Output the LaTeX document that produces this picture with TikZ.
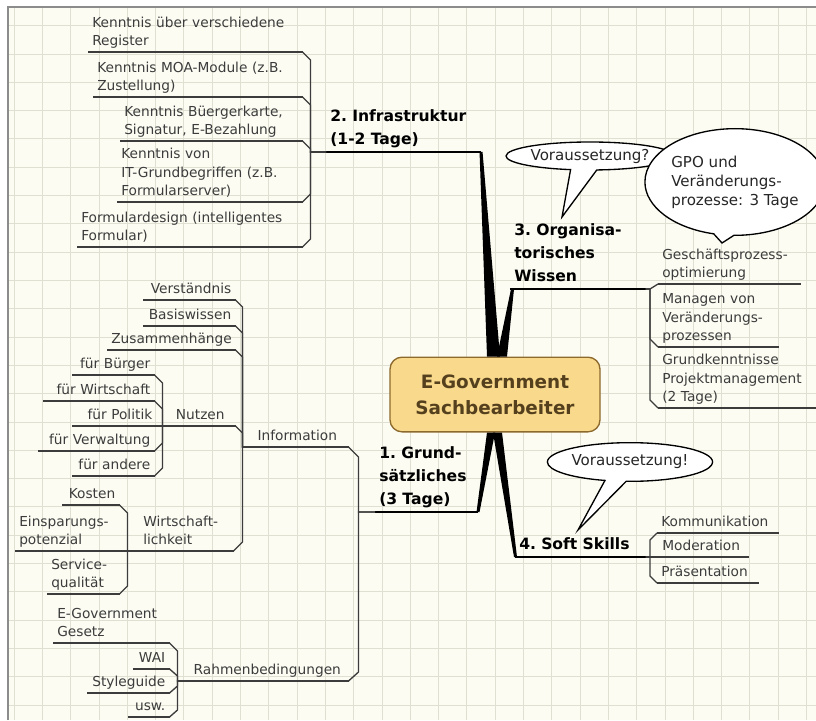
\documentclass[tikz,border=0pt]{standalone}
\usepackage{fontspec}
\setmainfont{DejaVu Sans}
\usetikzlibrary{calc,shapes.callouts}
\definecolor{paper}{RGB}{252,252,243}
\definecolor{gridc}{RGB}{224,224,210}
\definecolor{framec}{RGB}{140,140,140}
\definecolor{inkc}{RGB}{60,60,60}
\definecolor{corefill}{RGB}{249,217,140}
\definecolor{coredraw}{RGB}{140,105,45}
\definecolor{coretext}{RGB}{85,64,30}
\tikzset{
  topic/.style={anchor=south west,inner xsep=3pt,inner ysep=0.5pt,text=inkc,
    font=\fontsize{10.3}{13.8}\selectfont,execute at end node=\strut},
  span/.code={\pgfmathsetlengthmacro\spanwd{#1*0.75pt-6pt}\tikzset{text width/.expanded=\spanwd}},
  leaf l/.style={topic,align=left},
  leaf r/.style={topic,align=right},
  leaf c/.style={topic,align=center},
  branch/.style={topic,align=left,text=black,font=\bfseries\fontsize{11.7}{17}\selectfont},
  sub line/.style={inkc,line width=1pt},
  main line/.style={black,line width=1.4pt},
  wedge/.style={fill=black},
  bubble/.style={ellipse callout,draw=black,line width=1pt,fill=white,inner sep=0pt,
    text=black!85,font=\fontsize{11.3}{14.3}\selectfont},
  grid line/.style={gridc,line width=0.6pt},
}
\begin{document}
\begin{tikzpicture}[x=0.75pt,y=-0.75pt]
  \useasboundingbox (0,0) rectangle (816,720);
  \fill[white] (0,0) rectangle (816,720);
  \fill[paper] (8,7) rectangle (816,720);
  \foreach \gx in {0,...,28} \draw[grid line] ({14+28.3*\gx},7) -- ({14+28.3*\gx},720);
  \foreach \gy in {0,...,24} \draw[grid line] (8,{25.7+28.3*\gy}) -- (816,{25.7+28.3*\gy});
  \draw[framec,line width=2pt] (8,720) -- (8,7) -- (816,7);

  \node[draw=coredraw,fill=corefill,line width=1pt,rounded corners=9pt,minimum width=157.5pt,
    minimum height=56pt,align=center,text=coretext,font=\bfseries\fontsize{13.8}{19.5}\selectfont]
    (core) at (495,394.5) {E-Government\\Sachbearbeiter};

  \node[branch,span=154] (infra) at (326,152) {2.~Infrastruktur\\(1-2~Tage)};
  \node[branch,span=135] (org) at (510,289) {3.~Organisa-\\torisches\\Wissen};
  \node[branch,span=102] (grund) at (375,512) {1.~Grund-\\sätzliches\\(3~Tage)};
  \node[branch,span=130] (soft) at (515,557) {4.~Soft~Skills};

  \node[leaf l,span=214] (reg) at (88,52) {Kenntnis über verschiedene\\Register};
  \node[leaf l,span=209] (moa) at (93,97) {Kenntnis MOA-Module (z.B.\\Zustellung)};
  \node[leaf l,span=182] (buerg) at (120,141) {Kenntnis Büergerkarte,\\Signatur, E-Bezahlung};
  \node[leaf l,span=185] (itg) at (117,202) {Kenntnis von\\IT-Grundbegriffen (z.B.\\Formularserver)};
  \node[leaf l,span=225] (fdes) at (77,247) {Formulardesign (intelligentes\\Formular)};

  \node[leaf c,span=102] (info) at (246,447) {Information};
  \node[leaf r,span=92] (verst) at (143,300) {Verständnis};
  \node[leaf r,span=92] (basis) at (143,326) {Basiswissen};
  \node[leaf r,span=128] (zus) at (107,350) {Zusammenhänge};
  \node[leaf c,span=70] (nutz) at (165,426) {Nutzen};
  \node[leaf l,span=94] (wirt) at (139,551) {Wirtschaft-\\lichkeit};

  \node[leaf r,span=82] (fbuerg) at (72,375) {für~Bürger};
  \node[leaf r,span=111] (fwirt) at (43,401) {für~Wirtschaft};
  \node[leaf r,span=84] (fpol) at (72,426) {für~Politik};
  \node[leaf r,span=116] (fverw) at (38,451) {für~Verwaltung};
  \node[leaf r,span=82] (fand) at (72,476) {für~andere};

  \node[leaf r,span=57] (kost) at (62,505) {Kosten};
  \node[leaf l,span=112] (potenz) at (15,551) {Einsparungs-\\potenzial};
  \node[leaf l,span=72] (serv) at (47,594) {Service-\\qualität};

  \node[leaf c,span=162] (rahm) at (186,681) {Rahmenbedingungen};
  \node[leaf l,span=116] (egov) at (53,643) {E-Government\\Gesetz};
  \node[leaf r,span=36] (wai) at (133,669) {WAI};
  \node[leaf r,span=82] (style) at (87,693) {Styleguide};
  \node[leaf r,span=41] (usw) at (128,717) {usw.};

  \node[leaf l,span=142] (gesch) at (658,284) {Geschäftsprozess-\\optimierung};
  \node[leaf l,span=120] (manag) at (658,347) {Managen von\\Veränderungs-\\prozessen};
  \node[leaf l,span=158] (grundk) at (658,408) {Grundkenntnisse\\Projektmanagement\\(2 Tage)};

  \node[leaf l,span=121] (kom) at (657,533) {Kommunikation};
  \node[leaf l,span=90] (mod) at (658,557) {Moderation};
  \node[leaf l,span=101] (praes) at (657,583) {Präsentation};

  \coordinate (vq tip) at (562,217);
  \coordinate (gpo tip) at (722,243);
  \coordinate (va tip) at (578,530);
  \node[bubble,minimum width=112.5pt,minimum height=21pt,callout absolute pointer={(vq tip)},
    callout pointer arc=18] (vq) at (590,156) {Voraussetzung?};
  \node[bubble,minimum width=120pt,minimum height=80pt,align=left,callout absolute pointer={(gpo tip)},
    callout pointer arc=13] (gpo) at (735,182) {GPO und\\Veränderungs-\\prozesse: 3 Tage};
  \node[bubble,minimum width=109.5pt,minimum height=29pt,callout absolute pointer={(va tip)},
    callout pointer arc=15] (va) at (630,462) {Voraussetzung!};

  \foreach \n in {infra,org,grund,soft} \draw[main line] (\n.south west) -- (\n.south east);
  \foreach \n in {reg,moa,buerg,itg,fdes,info,verst,basis,zus,nutz,wirt,fbuerg,fwirt,fpol,fverw,fand,
    kost,potenz,serv,rahm,egov,wai,style,usw,gesch,manag,grundk,kom,mod,praes}
    \draw[sub line] (\n.south west) -- (\n.south east);

  \fill[wedge] ($(core.north)+(-8,0)$) -- ($(infra.south east)+(-1,0)$) -- ($(infra.south east)+(2,0)$) -- ($(core.north)+(5,0)$) -- cycle;
  \fill[wedge] ($(core.north)+(2,0)$) -- ($(org.south west)+(1,0)$) -- ($(org.south west)+(4,0)$) -- ($(core.north)+(12,0)$) -- cycle;
  \fill[wedge] ($(core.south)+(-8,0)$) -- ($(grund.south east)+(-1,0)$) -- ($(grund.south east)+(2,0)$) -- ($(core.south)+(0,0)$) -- cycle;
  \fill[wedge] ($(core.south)+(-2,0)$) -- ($(soft.south west)+(-1,0)$) -- ($(soft.south west)+(2,0)$) -- ($(core.south)+(7,0)$) -- cycle;

  \foreach \n in {reg,moa,buerg} \draw[sub line] (\n.south east) -- ++(8,8) |- (infra.south west);
  \foreach \n in {itg,fdes} \draw[sub line] (\n.south east) -- ++(8,-8) |- (infra.south west);
  \draw[sub line] (gesch.south west) -- ++(-8,5) |- (org.south east);
  \foreach \n in {manag,grundk} \draw[sub line] (\n.south west) -- ++(-8,-8) |- (org.south east);
  \draw[sub line] (info.south east) -- ++(10,10) |- (grund.south west);
  \draw[sub line] (rahm.south east) -- ++(10,-9) |- (grund.south west);
  \draw[sub line] (kom.south west) -- ++(-7,7) |- (soft.south east);
  \draw[sub line] (mod.south west) -- (soft.south east);
  \draw[sub line] (praes.south west) -- ++(-7,-7) |- (soft.south east);
  \foreach \n in {verst,basis,zus,nutz} \draw[sub line] (\n.south east) -- ++(7,7) |- (info.south west);
  \draw[sub line] (wirt.south east) -- ++(9,-9) |- (info.south west);
  \foreach \n in {fbuerg,fwirt} \draw[sub line] (\n.south east) -- ++(8,8) |- (nutz.south west);
  \draw[sub line] (fpol.south east) -- (nutz.south west);
  \foreach \n in {fverw,fand} \draw[sub line] (\n.south east) -- ++(8,-8) |- (nutz.south west);
  \draw[sub line] (kost.south east) -- ++(8,8) |- (wirt.south west);
  \draw[sub line] (potenz.south east) -- (wirt.south west);
  \draw[sub line] (serv.south east) -- ++(8,-8) |- (wirt.south west);
  \draw[sub line] (egov.south east) -- ++(8,8) |- (rahm.south west);
  \draw[sub line] (wai.south east) -- ++(8,7) |- (rahm.south west);
  \foreach \n in {style,usw} \draw[sub line] (\n.south east) -- ++(8,-7) |- (rahm.south west);
\end{tikzpicture}
\end{document}
